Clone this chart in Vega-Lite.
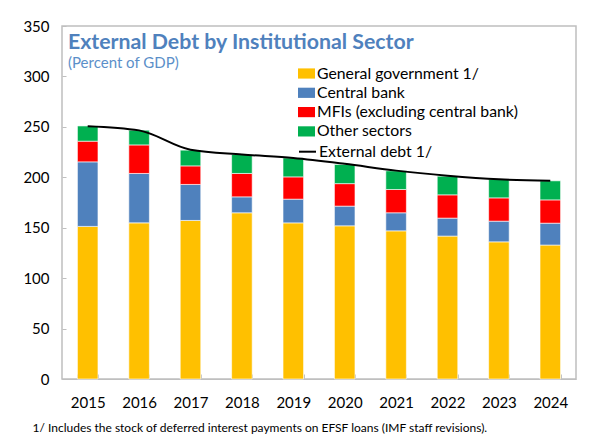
{
  "$schema": "https://vega.github.io/schema/vega-lite/v6.json",
  "autosize": {"type": "none"},
  "width": 514,
  "height": 353,
  "padding": {"left": 62, "top": 26, "right": 13, "bottom": 58},
  "background": "white",
  "config": {
    "font": "Lato",
    "view": {"stroke": "#BFBFBF", "strokeWidth": 1.5},
    "axis": {"grid": false, "labelColor": "black", "labelFontSize": 15, "tickColor": "#BFBFBF", "domainColor": "#BFBFBF"}
  },
  "title": {
    "text": "External Debt by Institutional Sector",
    "subtitle": "(Percent of GDP)",
    "anchor": "start",
    "frame": "group",
    "fontSize": 21.3,
    "fontWeight": "bold",
    "color": "#4F81BD",
    "subtitleColor": "#5B8FC9",
    "subtitleFontSize": 15,
    "subtitlePadding": 3,
    "dx": 6,
    "dy": 56
  },
  "datasets": {
    "sectors": [
      {"year": "2015", "sector": "General government 1/", "value": 151.3},
      {"year": "2015", "sector": "Central bank", "value": 64.0},
      {"year": "2015", "sector": "MFIs (excluding central bank)", "value": 20.5},
      {"year": "2015", "sector": "Other sectors", "value": 15.1},
      {"year": "2016", "sector": "General government 1/", "value": 154.8},
      {"year": "2016", "sector": "Central bank", "value": 49.0},
      {"year": "2016", "sector": "MFIs (excluding central bank)", "value": 28.3},
      {"year": "2016", "sector": "Other sectors", "value": 14.6},
      {"year": "2017", "sector": "General government 1/", "value": 157.2},
      {"year": "2017", "sector": "Central bank", "value": 35.7},
      {"year": "2017", "sector": "MFIs (excluding central bank)", "value": 18.4},
      {"year": "2017", "sector": "Other sectors", "value": 15.6},
      {"year": "2018", "sector": "General government 1/", "value": 164.8},
      {"year": "2018", "sector": "Central bank", "value": 15.8},
      {"year": "2018", "sector": "MFIs (excluding central bank)", "value": 23.2},
      {"year": "2018", "sector": "Other sectors", "value": 18.8},
      {"year": "2019", "sector": "General government 1/", "value": 154.8},
      {"year": "2019", "sector": "Central bank", "value": 23.5},
      {"year": "2019", "sector": "MFIs (excluding central bank)", "value": 22.1},
      {"year": "2019", "sector": "Other sectors", "value": 18.8},
      {"year": "2020", "sector": "General government 1/", "value": 151.9},
      {"year": "2020", "sector": "Central bank", "value": 19.5},
      {"year": "2020", "sector": "MFIs (excluding central bank)", "value": 22.3},
      {"year": "2020", "sector": "Other sectors", "value": 19.0},
      {"year": "2021", "sector": "General government 1/", "value": 146.9},
      {"year": "2021", "sector": "Central bank", "value": 17.9},
      {"year": "2021", "sector": "MFIs (excluding central bank)", "value": 23.1},
      {"year": "2021", "sector": "Other sectors", "value": 18.5},
      {"year": "2022", "sector": "General government 1/", "value": 141.7},
      {"year": "2022", "sector": "Central bank", "value": 17.8},
      {"year": "2022", "sector": "MFIs (excluding central bank)", "value": 23.1},
      {"year": "2022", "sector": "Other sectors", "value": 18.5},
      {"year": "2023", "sector": "General government 1/", "value": 136.0},
      {"year": "2023", "sector": "Central bank", "value": 20.5},
      {"year": "2023", "sector": "MFIs (excluding central bank)", "value": 23.1},
      {"year": "2023", "sector": "Other sectors", "value": 18.5},
      {"year": "2024", "sector": "General government 1/", "value": 132.8},
      {"year": "2024", "sector": "Central bank", "value": 21.7},
      {"year": "2024", "sector": "MFIs (excluding central bank)", "value": 23.1},
      {"year": "2024", "sector": "Other sectors", "value": 18.9}
    ],
    "total": [
      {"year": "2015", "debt": 250.7},
      {"year": "2016", "debt": 246.5},
      {"year": "2017", "debt": 227.3},
      {"year": "2018", "debt": 222.6},
      {"year": "2019", "debt": 219.2},
      {"year": "2020", "debt": 213.4},
      {"year": "2021", "debt": 206.6},
      {"year": "2022", "debt": 201.6},
      {"year": "2023", "debt": 198.0},
      {"year": "2024", "debt": 196.5}
    ]
  },
  "encoding": {
    "x": {
      "field": "year",
      "type": "ordinal",
      "scale": {"paddingInner": 0.6, "paddingOuter": 0.3},
      "axis": {
        "labelAngle": 0,
        "labelPadding": 21,
        "tickBand": "extent",
        "tickSize": -5,
        "title": "1/ Includes the stock of deferred interest payments on EFSF loans (IMF staff revisions).",
        "titleFontSize": 12,
        "titleFontWeight": "normal",
        "titleColor": "black",
        "titleAnchor": "start",
        "titleAlign": "left",
        "titleBaseline": "middle",
        "titleX": -30,
        "titleY": 48
      }
    }
  },
  "layer": [
    {
      "data": {"name": "sectors"},
      "transform": [
        {"calculate": "indexof(['General government 1/', 'Central bank', 'MFIs (excluding central bank)', 'Other sectors'], datum.sector)", "as": "stackRank"}
      ],
      "mark": {"type": "bar", "stroke": "white", "strokeWidth": 0.6},
      "encoding": {
        "y": {
          "field": "value",
          "type": "quantitative",
          "stack": "zero",
          "scale": {"domain": [0, 350]},
          "axis": {"values": [0, 50, 100, 150, 200, 250, 300, 350], "domain": false, "tickSize": -4, "labelPadding": 17, "title": null}
        },
        "order": {"field": "stackRank", "type": "quantitative", "sort": "ascending"},
        "color": {
          "field": "sector",
          "type": "nominal",
          "scale": {
            "domain": ["General government 1/", "Central bank", "MFIs (excluding central bank)", "Other sectors"],
            "range": ["#FFC000", "#4F81BD", "#FF0000", "#00B050"]
          },
          "legend": {
            "title": null,
            "orient": "none",
            "legendX": 236,
            "legendY": 39,
            "padding": 0,
            "labelFontSize": 15.8,
            "labelOffset": 2,
            "rowPadding": 2.3,
            "symbolSize": 289,
            "symbolType": "M-1,-0.6H1V0.6H-1Z",
            "symbolStrokeWidth": 0,
            "labelLimit": 300
          }
        }
      }
    },
    {
      "data": {"name": "total"},
      "mark": {"type": "line", "strokeWidth": 2, "interpolate": "monotone"},
      "encoding": {
        "y": {"field": "debt", "type": "quantitative"},
        "stroke": {
          "datum": "External debt 1/",
          "type": "nominal",
          "scale": {"range": ["#000000"]},
          "legend": {
            "title": null,
            "orient": "none",
            "legendX": 236,
            "legendY": 116.2,
            "padding": 0,
            "labelFontSize": 15.8,
            "labelOffset": 2,
            "symbolSize": 289,
            "symbolType": "stroke",
            "symbolStrokeWidth": 2,
            "labelLimit": 300
          }
        }
      }
    }
  ]
}
